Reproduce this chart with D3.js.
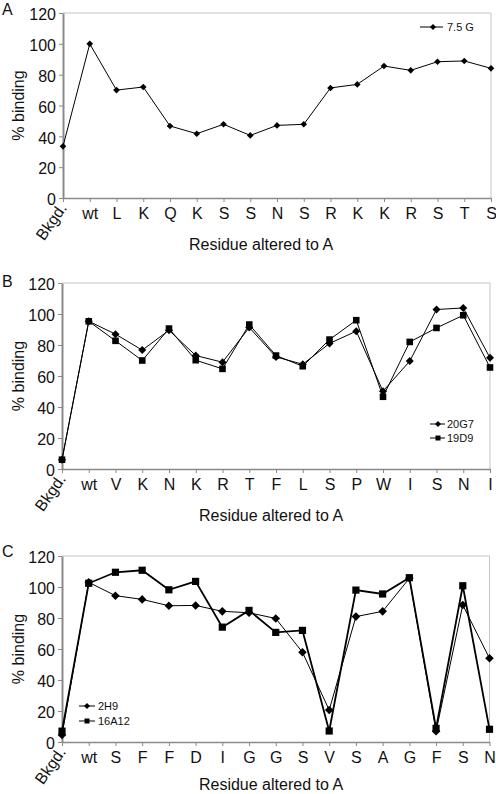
<!DOCTYPE html>
<html>
<head>
<meta charset="utf-8">
<script src="https://cdn.jsdelivr.net/npm/d3@7"></script>
<style>
  html, body { margin: 0; padding: 0; background: #fff; }
  svg { display: block; font-family: "Liberation Sans", Arial, sans-serif; }
</style>
</head>
<body>
<svg id="chart" width="496" height="794"></svg>
<script>
// ---------------- DATA ----------------
const yTicks = [0, 20, 40, 60, 80, 100, 120];

const categoriesA = ["Bkgd.", "wt", "L", "K", "Q", "K", "S", "S", "N", "S", "R", "K", "K", "R", "S", "T", "S"];
const series_7_5G = [33.5, 100, 70, 72, 46.7, 41.7, 47.8, 40.6, 47.1, 47.8, 71.4, 73.7, 85.6, 82.8, 88.4, 88.9, 84.1];

const categoriesB = ["Bkgd.", "wt", "V", "K", "N", "K", "R", "T", "F", "L", "S", "P", "W", "I", "S", "N", "I"];
const series_20G7 = [6, 95.3, 87, 76.7, 89.5, 73.2, 68.9, 91.3, 72.3, 67.6, 81, 88.9, 50.2, 69.6, 102.9, 103.9, 71.7];
const series_19D9 = [6, 95.3, 82.7, 70, 90.6, 70.2, 64.6, 93.2, 73.2, 66.3, 83.5, 96, 46.6, 82, 91, 99.2, 65.5];

const categoriesC = ["Bkgd.", "wt", "S", "F", "F", "D", "I", "G", "G", "S", "V", "S", "A", "G", "F", "S", "N"];
const series_2H9 = [4.5, 103, 94.4, 92, 87.9, 88.1, 84.3, 83.4, 79.7, 57.9, 20.6, 80.9, 84.3, 105.6, 6.9, 88.4, 54];
const series_16A12 = [7, 102.4, 109.5, 110.8, 98.2, 103.6, 74.1, 84.9, 70.7, 72, 7.1, 98, 95.5, 106, 8.8, 100.8, 8.2];

const xTitle = "Residue altered to A";
const yTitle = "% binding";

// ---------------- LAYOUT ----------------
const panels = [
  { letter: "A", letterY: 15, left: 63, right: 491, top: 13, bottom: 198, titleX: 261, titleDy: 51.5,
    cats: categoriesA,
    series: [{ name: "7.5 G", values: series_7_5G, shape: "diamond", size: 3.3, width: 1 }],
    legend: { x1: 420, x2: 443, mx: 433, tx: 447, y0: 27, dy: 15 } },
  { letter: "B", letterY: 287, left: 62, right: 490, top: 283, bottom: 469, titleX: 271, titleDy: 51.5,
    cats: categoriesB,
    series: [
      { name: "20G7", values: series_20G7, shape: "diamond", size: 4, width: 1 },
      { name: "19D9", values: series_19D9, shape: "square", size: 3.3, width: 1 }],
    legend: { x1: 430, x2: 445, mx: 438, tx: 447, y0: 424, dy: 14 } },
  { letter: "C", letterY: 557, left: 62, right: 489.5, top: 556, bottom: 742, titleX: 271, titleDy: 48,
    cats: categoriesC,
    series: [
      { name: "2H9", values: series_2H9, shape: "diamond", size: 4.3, width: 1 },
      { name: "16A12", values: series_16A12, shape: "square", size: 3.6, width: 1.8 }],
    legend: { x1: 79, x2: 95, mx: 87, tx: 98, y0: 706, dy: 15 } }
];

const svg = d3.select("#chart");
const axisColor = "#8a8a8a";
const borderColor = "#c4c4c4";

function markerPath(shape, s) {
  if (shape === "diamond") return `M0,${-s}L${s},0L0,${s}L${-s},0Z`;
  return `M${-s},${-s}H${s}V${s}H${-s}Z`;
}

panels.forEach(p => {
  const g = svg.append("g");
  const idx = d3.range(p.cats.length);
  const x = d3.scalePoint().domain(idx).range([p.left, p.right]);
  const y = d3.scaleLinear().domain([0, 120]).range([p.bottom, p.top]);

  // plot border (top and right)
  g.append("path")
    .attr("d", `M${p.left},${p.top}H${p.right}V${p.bottom}`)
    .attr("fill", "none").attr("stroke", borderColor).attr("stroke-width", 1);

  // x axis
  const xAxis = g.append("g")
    .attr("transform", `translate(0,${p.bottom})`)
    .call(d3.axisBottom(x).tickSize(4).tickSizeOuter(0).tickPadding(6)
      .tickFormat(i => p.cats[i]));
  xAxis.select(".domain").attr("stroke", axisColor).attr("stroke-width", 1.5);
  xAxis.selectAll(".tick line").attr("stroke", axisColor).attr("stroke-width", 1);
  xAxis.selectAll(".tick text")
    .attr("font-size", 16).attr("fill", "#111")
    .attr("font-family", "'Liberation Sans', Arial, sans-serif");
  xAxis.selectAll(".tick").filter(i => i === 0).select("text")
    .attr("text-anchor", "end")
    .attr("y", 0).attr("dy", 0)
    .attr("transform", "translate(4,10) rotate(-55)");

  // y axis
  const yAxis = g.append("g")
    .attr("transform", `translate(${p.left},0)`)
    .call(d3.axisLeft(y).tickValues(yTicks).tickSize(4).tickSizeOuter(0).tickPadding(3));
  yAxis.select(".domain").attr("stroke", axisColor).attr("stroke-width", 2);
  yAxis.selectAll(".tick line").attr("stroke", axisColor);
  yAxis.selectAll(".tick text")
    .attr("font-size", 16).attr("fill", "#111").attr("dy", "0.42em")
    .attr("font-family", "'Liberation Sans', Arial, sans-serif");

  // titles
  g.append("text")
    .attr("x", p.titleX).attr("y", p.bottom + p.titleDy)
    .attr("text-anchor", "middle").attr("font-size", 16).attr("fill", "#111")
    .text(xTitle);
  g.append("text")
    .attr("transform", `translate(24,${(p.top + p.bottom) / 2}) rotate(-90)`)
    .attr("text-anchor", "middle").attr("font-size", 16).attr("fill", "#111")
    .text(yTitle);
  g.append("text")
    .attr("x", 2).attr("y", p.letterY)
    .attr("font-size", 16).attr("fill", "#111")
    .text(p.letter);

  // series
  p.series.forEach(s => {
    const line = d3.line().x((d, i) => x(i)).y(d => y(d));
    g.append("path").datum(s.values)
      .attr("d", line).attr("fill", "none")
      .attr("stroke", "#000").attr("stroke-width", s.width);
    g.selectAll(null).data(s.values).enter().append("path")
      .attr("transform", (d, i) => `translate(${x(i)},${y(d)})`)
      .attr("d", markerPath(s.shape, s.size))
      .attr("fill", "#000");
  });

  // legend
  const L = p.legend;
  p.series.forEach((s, k) => {
    const ly = L.y0 + k * L.dy;
    g.append("line").attr("x1", L.x1).attr("x2", L.x2).attr("y1", ly).attr("y2", ly)
      .attr("stroke", "#000").attr("stroke-width", 1);
    g.append("path").attr("transform", `translate(${L.mx},${ly})`)
      .attr("d", markerPath(s.shape, s.shape === "diamond" ? 3 : 2.5)).attr("fill", "#000");
    g.append("text").attr("x", L.tx).attr("y", ly).attr("dy", "0.36em")
      .attr("font-size", 11).attr("fill", "#111").text(s.name);
  });
});
</script>
</body>
</html>
